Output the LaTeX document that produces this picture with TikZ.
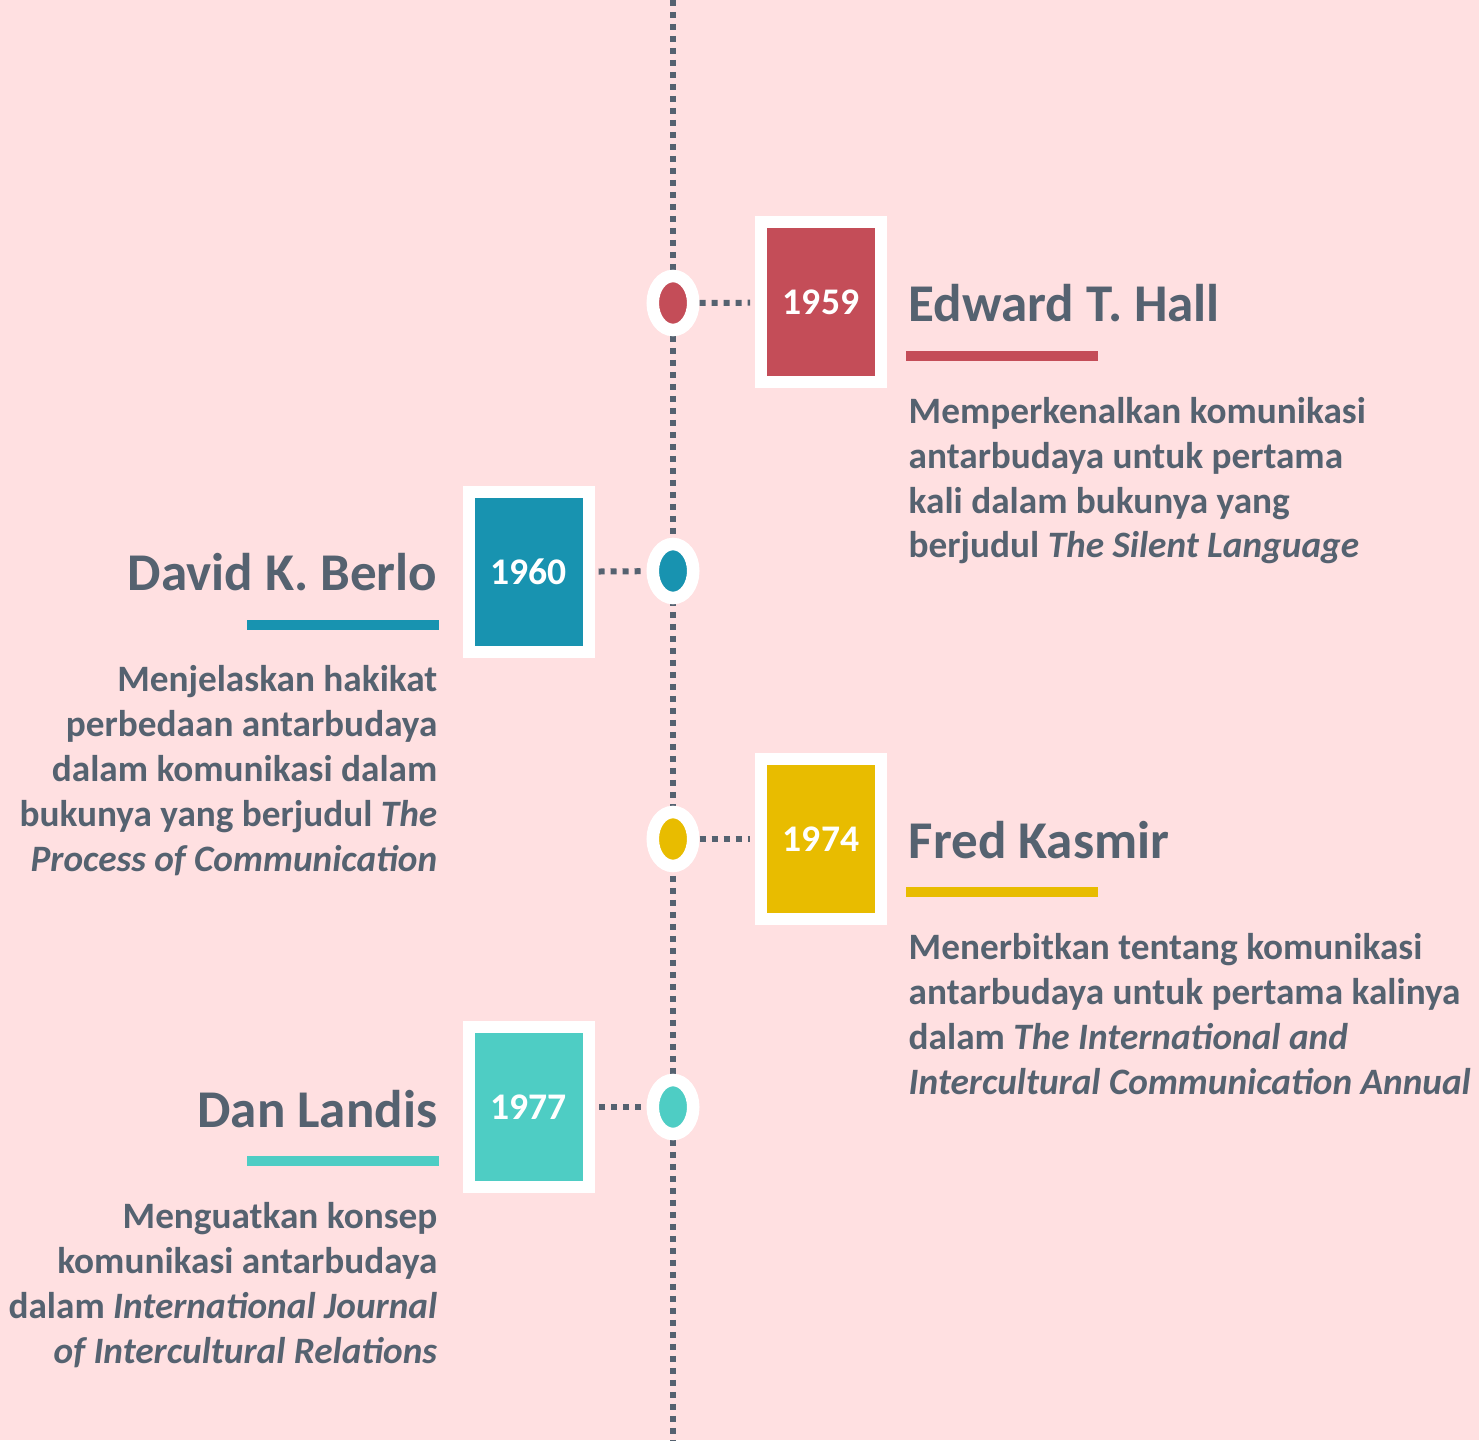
\documentclass[tikz,border=0pt]{standalone}
\usepackage{fontspec}
\setmainfont{Carlito}
\usetikzlibrary{shapes.geometric,shadows}

\definecolor{bgpink}{HTML}{FFE0E1}
\definecolor{slate}{HTML}{556270}
\definecolor{red59}{HTML}{C44D58}
\definecolor{blue60}{HTML}{1893B0}
\definecolor{yellow74}{HTML}{E8BC00}
\definecolor{aqua77}{HTML}{4ECDC4}

\begin{document}
\begin{tikzpicture}[
        dotline/.style={slate, line width=0.06cm, dash pattern=on 0.06cm off 0.06cm},
        ring/.style={ellipse, draw=white, line width=0.125cm, minimum width=0.405cm,
            minimum height=0.54cm, inner sep=0pt,
            drop shadow={shadow xshift=0.01cm, shadow yshift=-0.01cm, opacity=0.15}},
        yearbox/.style={rectangle, draw=white, line width=0.12cm, minimum width=1.2cm,
            minimum height=1.6cm, inner sep=0pt, text=white,
            font=\bfseries\fontsize{10.7}{12}\selectfont,
            drop shadow={shadow xshift=0.015cm, shadow yshift=-0.015cm, opacity=0.15}},
        person/.style={slate, inner sep=0pt, font=\bfseries\fontsize{15.1}{17}\selectfont},
        story/.style={slate, inner sep=0pt, font=\bfseries\fontsize{10.6}{12.8}\selectfont}
    ]
        \fill[bgpink] (0,0) rectangle (14.79,14.40);
        \useasboundingbox (0,0) rectangle (14.79,14.40);

        % the time line
        \coordinate (top) at (6.73,14.40);
        \coordinate (bottom) at (6.73,0);
        \draw[dotline] (top) -- (bottom);

        % 1959
        \node[ring, fill=red59] (c1959) at (6.73,11.37) {};
        \node[yearbox, fill=red59] (y1959) at (8.21,11.375) {1959};
        \draw[dotline, shorten >=0.05cm] (c1959) -- (y1959);
        \node[person, anchor=base west] (n1959) at (9.08,11.18) {Edward T. Hall};
        \fill[red59] (9.06,10.79) rectangle (10.98,10.89);
        \node[story, anchor=base west, align=left] (s1959) at (9.08,8.82)
            {Memperkenalkan komunikasi\\antarbudaya untuk pertama\\kali dalam bukunya yang\\berjudul \textit{The Silent Language}};

        % 1960
        \node[ring, fill=blue60] (c1960) at (6.73,8.69) {};
        \node[yearbox, fill=blue60] (y1960) at (5.285,8.68) {1960};
        \draw[dotline, shorten <=0.06cm, shorten >=0.03cm] (c1960) -- (y1960);
        \node[person, anchor=base east] (n1960) at (4.38,8.49) {David K. Berlo};
        \fill[blue60] (2.47,8.10) rectangle (4.39,8.20);
        \node[story, anchor=base east, align=right] (s1960) at (4.38,5.69)
            {Menjelaskan hakikat\\perbedaan antarbudaya\\dalam komunikasi dalam\\bukunya yang berjudul \textit{The}\\\textit{Process of Communication}};

        % 1974
        \node[ring, fill=yellow74] (c1974) at (6.73,6.01) {};
        \node[yearbox, fill=yellow74] (y1974) at (8.21,6.01) {1974};
        \draw[dotline, shorten >=0.05cm] (c1974) -- (y1974);
        \node[person, anchor=base west] (n1974) at (9.08,5.82) {Fred Kasmir};
        \fill[yellow74] (9.06,5.43) rectangle (10.98,5.53);
        \node[story, anchor=base west, align=left] (s1974) at (9.08,3.46)
            {Menerbitkan tentang komunikasi\\antarbudaya untuk pertama kalinya\\dalam \textit{The International and}\\\textit{Intercultural Communication Annual}};

        % 1977
        \node[ring, fill=aqua77] (c1977) at (6.73,3.33) {};
        \node[yearbox, fill=aqua77] (y1977) at (5.285,3.33) {1977};
        \draw[dotline, shorten <=0.06cm, shorten >=0.03cm] (c1977) -- (y1977);
        \node[person, anchor=base east] (n1977) at (4.38,3.13) {Dan Landis};
        \fill[aqua77] (2.47,2.74) rectangle (4.39,2.84);
        \node[story, anchor=base east, align=right] (s1977) at (4.38,0.77)
            {Menguatkan konsep\\komunikasi antarbudaya\\dalam \textit{International Journal}\\\textit{of Intercultural Relations}};
    \end{tikzpicture}
\end{document}
